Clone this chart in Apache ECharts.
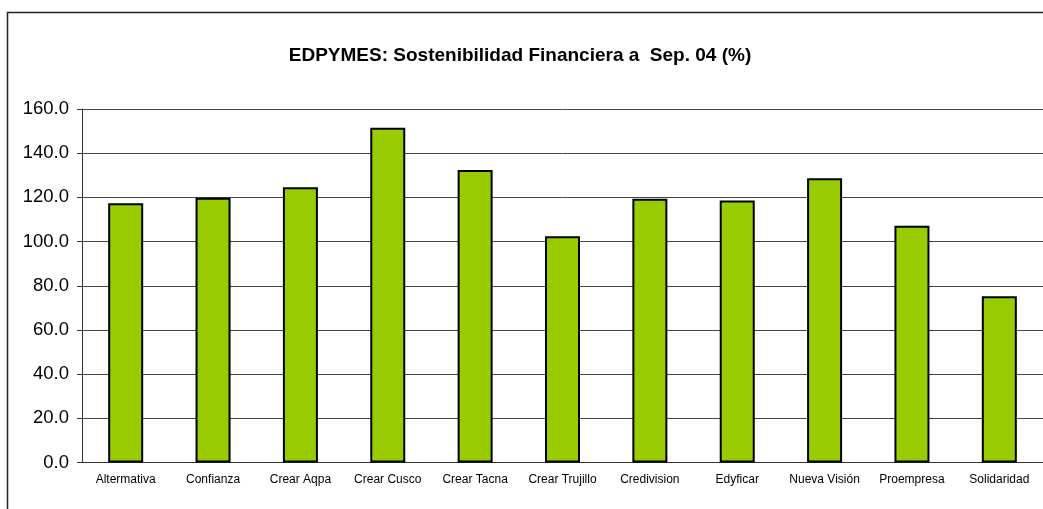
<!DOCTYPE html>
<html>
<head>
<meta charset="utf-8">
<script src="https://cdn.jsdelivr.net/npm/echarts@6/dist/echarts.min.js"></script>
<style>
  html, body { margin: 0; padding: 0; background: #fff; }
  #grafico { width: 1043px; height: 509px; }
</style>
</head>
<body>
<div id="grafico"></div>
<script>
var categorias = ['Altermativa', 'Confianza', 'Crear Aqpa', 'Crear Cusco', 'Crear Tacna',
  'Crear Trujillo', 'Credivision', 'Edyficar', 'Nueva Visión', 'Proempresa', 'Solidaridad'];
var sostenibilidad = [117.3, 119.8, 124.6, 151.5, 132.4, 102.4, 119.4, 118.6, 128.6, 107.2, 75.2];
var titulo = 'EDPYMES: Sostenibilidad Financiera a  Sep. 04 (%)';

var myChart = echarts.init(document.getElementById('grafico'), null, { renderer: 'canvas' });
myChart.setOption({
  animation: false,
  backgroundColor: '#fff',
  textStyle: { fontFamily: 'Liberation Sans, Arial, sans-serif' },
  graphic: [{
    type: 'rect',
    shape: { x: 7.5, y: 12.5, width: 1100, height: 600 },
    style: { fill: 'none', stroke: '#222', lineWidth: 1.5 },
    silent: true
  }],
  title: {
    text: titulo,
    left: 515,
    textAlign: 'center',
    top: 41,
    textStyle: { fontSize: 19, fontWeight: 'bold', color: '#000', fontFamily: 'Liberation Sans, Arial, sans-serif' }
  },
  grid: { left: 82, top: 109, width: 966, height: 353.5, containLabel: false },
  xAxis: {
    type: 'category',
    data: categorias,
    axisLine: { lineStyle: { color: '#333', width: 1 } },
    axisTick: { show: false },
    axisLabel: { interval: 0, fontSize: 12, color: '#000', margin: 11 }
  },
  yAxis: {
    type: 'value',
    min: 0,
    max: 160,
    interval: 20,
    axisLine: { show: true, lineStyle: { color: '#333', width: 1 } },
    axisTick: { show: true, length: 5, lineStyle: { color: '#333' } },
    axisLabel: {
      fontSize: 18.5, color: '#000', margin: 13,
      formatter: function (v) { return v.toFixed(1); }
    },
    splitLine: { lineStyle: { color: '#444', width: 1 } }
  },
  series: [{
    name: 'Sostenibilidad',
    type: 'bar',
    data: sostenibilidad,
    barWidth: 35,
    itemStyle: { color: '#99CC00', borderColor: '#000', borderWidth: 2 }
  }]
});
</script>
</body>
</html>
